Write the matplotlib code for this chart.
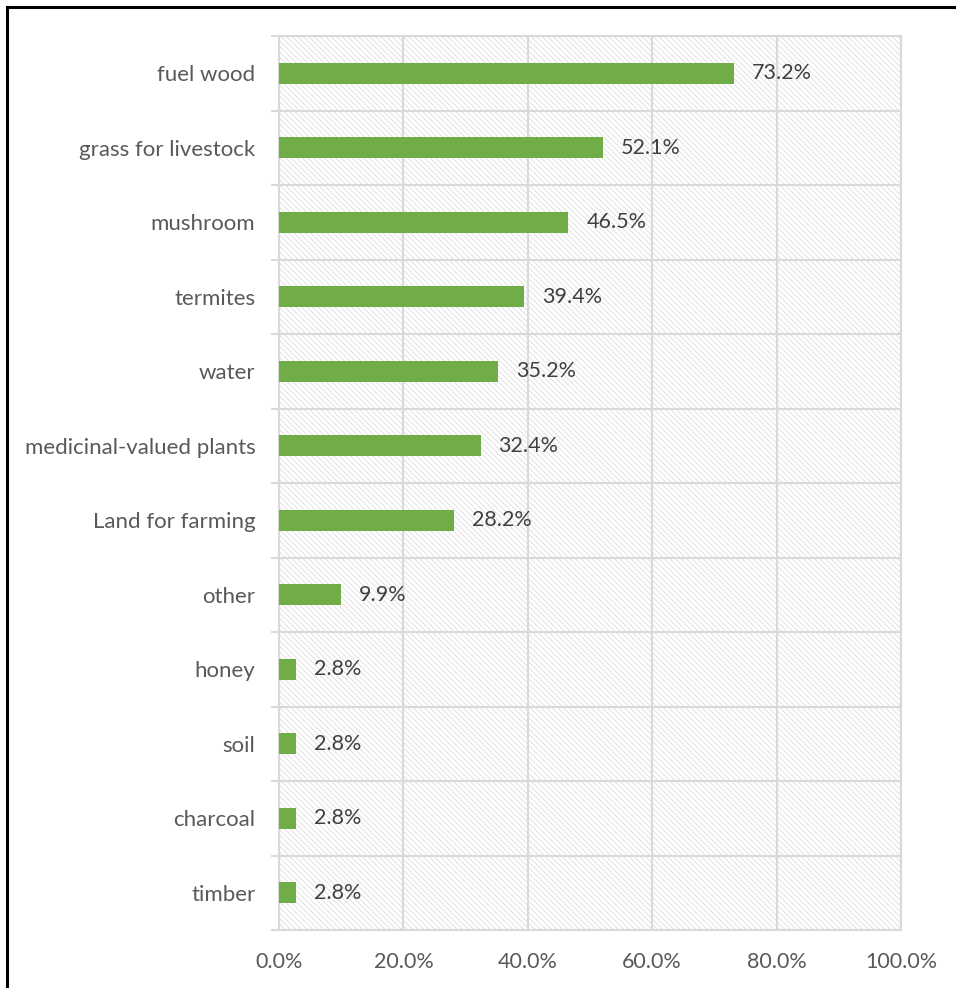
import numpy as np
import matplotlib.pyplot as plt
from matplotlib.patches import Rectangle
from matplotlib.ticker import FuncFormatter, FixedLocator
from matplotlib.lines import Line2D

categories = ['fuel wood', 'grass for livestock', 'mushroom', 'termites', 'water',
              'medicinal-valued plants', 'Land for farming', 'other', 'honey',
              'soil', 'charcoal', 'timber']
values = [73.2, 52.1, 46.5, 39.4, 35.2, 32.4, 28.2, 9.9, 2.8, 2.8, 2.8, 2.8]
xticks = [0, 20, 40, 60, 80, 100]

plt.rcParams['font.family'] = ['Lato', 'DejaVu Sans']
plt.rcParams['hatch.linewidth'] = 0.5
plt.rcParams['hatch.color'] = '#d6d6d6'

txt = '#595959'
grid = '#d9d9d9'
green = '#70ad47'

fig = plt.figure(figsize=(9.56, 9.88), dpi=100)
ax = fig.add_axes([279 / 956, 1 - 930 / 988, 622 / 956, 894 / 988])

n = len(categories)
y = np.arange(n)[::-1]

ax.add_patch(Rectangle((0, 0), 1, 1, transform=ax.transAxes, facecolor='white',
                       edgecolor='#d6d6d6', hatch='\\\\\\\\\\\\', lw=0, zorder=0))

ax.barh(y, values, height=0.28, color=green, zorder=3)
for yi, v in zip(y, values):
    ax.annotate(f'{v:.1f}%', (v, yi), xytext=(13, 0), textcoords='offset points',
                va='center', ha='left', fontsize=15.5, color='#404040', zorder=4)

ax.set_xlim(0, 100)
ax.set_ylim(-0.5, n - 0.5)
ax.set_xticks(xticks)
ax.xaxis.set_major_formatter(FuncFormatter(lambda v, p: f'{v:.1f}%'))
ax.set_yticks(y)
ax.set_yticklabels(categories)
ax.yaxis.set_minor_locator(FixedLocator(np.arange(-0.5, n, 1.0)))

ax.tick_params(axis='x', length=0, pad=16, labelsize=15.5, labelcolor=txt)
ax.tick_params(axis='y', which='major', length=0, pad=17, labelsize=16, labelcolor=txt)
ax.tick_params(axis='y', which='minor', length=6, width=1.5, color=grid)

ax.grid(True, axis='x', color=grid, lw=1.5, zorder=1)
ax.grid(True, axis='y', which='minor', color=grid, lw=1.5, zorder=1)
ax.set_axisbelow(True)
for s in ax.spines.values():
    s.set_color(grid)
    s.set_linewidth(1.5)

# outer chart border (top and left only visible in the crop)
fig.add_artist(Line2D([7 / 956, 7 / 956], [0, 1 - 7 / 988], transform=fig.transFigure,
                      color='black', lw=2.2))
fig.add_artist(Line2D([7 / 956, 1], [1 - 7 / 988, 1 - 7 / 988], transform=fig.transFigure,
                      color='black', lw=2.2))

fig.savefig('out.png', dpi=100)
